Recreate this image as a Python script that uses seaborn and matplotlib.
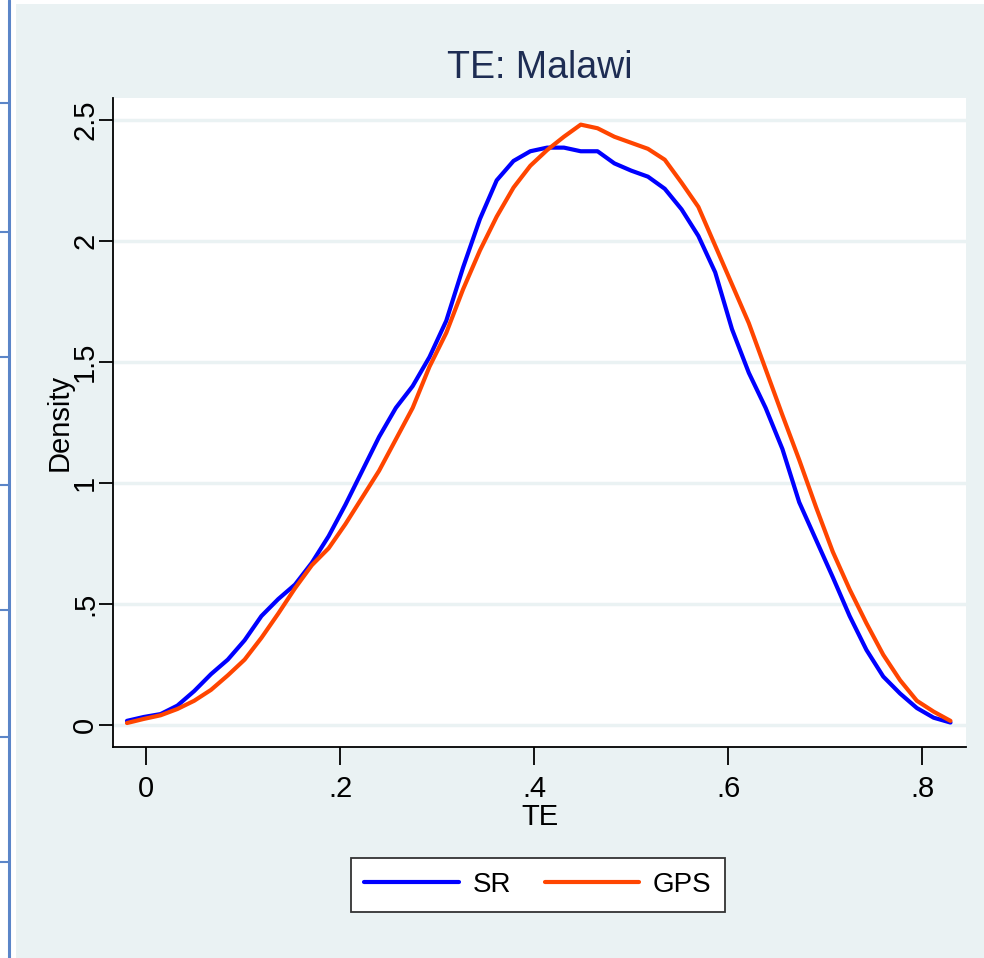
import numpy as np
import pandas as pd
import matplotlib
matplotlib.use('Agg')
import matplotlib.pyplot as plt
import seaborn as sns
from matplotlib.lines import Line2D
from matplotlib.patches import Rectangle

# kdensity evaluation grid (50 points) and density values
te_grid = np.linspace(-0.0196, 0.829, 50)

sr_density = [0.017, 0.033, 0.045, 0.08, 0.14, 0.21, 0.27, 0.35, 0.45, 0.52,
              0.58, 0.67, 0.78, 0.91, 1.05, 1.19, 1.31, 1.40, 1.52, 1.67,
              1.89, 2.09, 2.25, 2.33, 2.37, 2.385, 2.385, 2.37, 2.37, 2.32,
              2.29, 2.265, 2.215, 2.13, 2.02, 1.87, 1.635, 1.455, 1.31, 1.14,
              0.92, 0.765, 0.61, 0.45, 0.31, 0.20, 0.13, 0.07, 0.03, 0.01]

gps_density = [0.008, 0.025, 0.04, 0.066, 0.10, 0.145, 0.205, 0.27, 0.36, 0.46,
               0.565, 0.66, 0.73, 0.83, 0.94, 1.05, 1.18, 1.31, 1.48, 1.62,
               1.80, 1.96, 2.10, 2.22, 2.31, 2.375, 2.43, 2.48, 2.465, 2.43,
               2.405, 2.38, 2.335, 2.24, 2.14, 1.98, 1.82, 1.66, 1.47, 1.28,
               1.095, 0.90, 0.715, 0.56, 0.42, 0.29, 0.185, 0.10, 0.055, 0.017]

series_names = ['SR', 'GPS']
series_colors = {'SR': '#0000FF', 'GPS': '#FF4500'}

x_ticks = [0, 0.2, 0.4, 0.6, 0.8]
x_ticklabels = ['0', '.2', '.4', '.6', '.8']
y_ticks = [0, 0.5, 1, 1.5, 2, 2.5]
y_ticklabels = ['0', '.5', '1', '1.5', '2', '2.5']

df = pd.DataFrame({
    'TE': np.concatenate([te_grid, te_grid]),
    'Density': sr_density + gps_density,
    'method': ['SR'] * 50 + ['GPS'] * 50,
})

sns.set_style('white')
plt.rcParams['font.family'] = ['Liberation Sans Narrow', 'Liberation Sans', 'DejaVu Sans']

bg = '#EAF2F3'
fig = plt.figure(figsize=(9.84, 9.58), dpi=100)
fig.patch.set_facecolor('white')

# outer (graph region) background, with the cropped frame strip on the left
fig.patches.append(Rectangle((16 / 984, 0), 1 - 16 / 984, 1 - 4 / 958,
                             transform=fig.transFigure, facecolor=bg,
                             edgecolor='none', zorder=-10))
fig.lines.append(Line2D([9 / 984, 9 / 984], [0, 1], transform=fig.transFigure,
                        color='#5B85C8', lw=2.2, zorder=-10))
for yp in [103, 232, 357, 485, 610, 737, 862]:
    fig.lines.append(Line2D([0, 9 / 984], [1 - yp / 958, 1 - yp / 958],
                            transform=fig.transFigure, color='#5B85C8', lw=1.5,
                            zorder=-10))

ax = fig.add_axes([113 / 984, 1 - 747 / 958, (966 - 113) / 984, (747 - 98) / 958])
ax.set_facecolor('white')

for yv in y_ticks:
    ax.axhline(yv, color=bg, lw=2.5, zorder=0)

sns.lineplot(data=df, x='TE', y='Density', hue='method', hue_order=series_names,
             palette=series_colors, lw=3.0, ax=ax, legend=False, sort=False)

ax.set_xlim(-0.034, 0.845)
ax.set_ylim(-0.091, 2.59)

ax.set_xticks(x_ticks)
ax.set_xticklabels(x_ticklabels)
ax.set_yticks(y_ticks)
ax.set_yticklabels(y_ticklabels, rotation=90, va='center')
ax.tick_params(axis='both', bottom=True, left=True, direction='out',
               length=10, width=1.3, colors='black', labelsize=21, pad=0)
ax.tick_params(axis='x', length=13, pad=7)

for side in ['top', 'right']:
    ax.spines[side].set_visible(False)
for side in ['left', 'bottom']:
    ax.spines[side].set_color('black')
    ax.spines[side].set_linewidth(1.3)

ax.set_xlabel('TE', fontsize=21, labelpad=0, color='black')
ax.set_ylabel('Density', fontsize=21, labelpad=-2, color='black')

fig.text(540 / 984, 1 - 68 / 958, 'TE: Malawi', ha='center', va='center',
         fontsize=27, color='#1E2D53')

handles = [Line2D([], [], color=series_colors[n], lw=3.0) for n in series_names]
leg = fig.legend(handles, series_names, loc='center', ncol=2,
                 bbox_to_anchor=(538 / 984, 1 - 885 / 958), fontsize=20,
                 frameon=True, fancybox=False, framealpha=1,
                 handlelength=3.4, columnspacing=1.2, handletextpad=0.5,
                 borderpad=0.5, labelcolor='black')
leg.get_frame().set_edgecolor('#333333')
leg.get_frame().set_linewidth(1.3)
leg.get_frame().set_facecolor('white')

fig.savefig('out.png', dpi=100, facecolor=fig.get_facecolor())
